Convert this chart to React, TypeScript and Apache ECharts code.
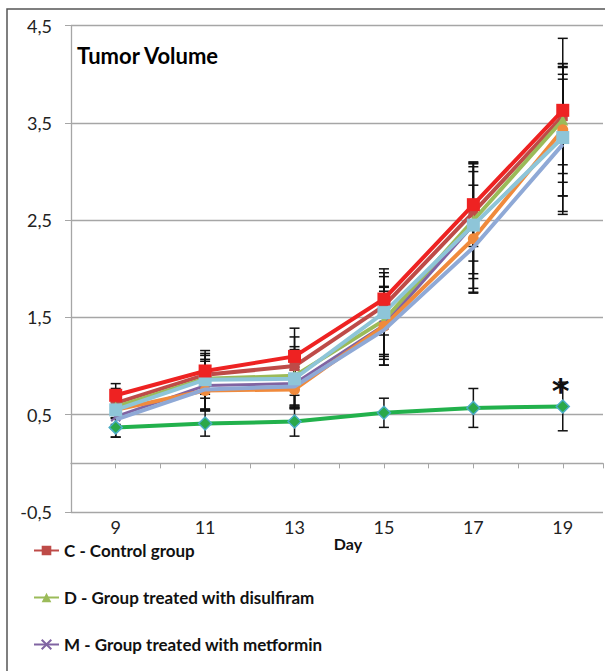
import React, { useEffect, useRef } from "react";
import * as echarts from "echarts";

const days = [9, 11, 13, 15, 17, 19];
const xLabelDays = [9, 11, 13, 15, 17, 19];
const yTicks = [-0.5, 0.5, 1.5, 2.5, 3.5, 4.5];
const xAxisTitle = "Day";

const seriesNames = [
  "C - Control group",
  "D - Group treated with disulfiram",
  "M - Group treated with metformin",
  "Group 4",
  "Group 5",
  "Group 6",
  "Group 7",
  "Group 8",
];
const legendNames = [
  "C - Control group",
  "D - Group treated with disulfiram",
  "M - Group treated with metformin",
];

const controlVals = [0.62, 0.91, 1.0, 1.62, 2.58, 3.57];
const disulfiramVals = [0.58, 0.87, 0.9, 1.47, 2.5, 3.53];
const metforminVals = [0.48, 0.8, 0.82, 1.42, 2.45, 3.35];
const orangeVals = [0.55, 0.75, 0.76, 1.41, 2.31, 3.43];
const blueGrayVals = [0.45, 0.76, 0.79, 1.37, 2.22, 3.28];
const lightBlueVals = [0.55, 0.86, 0.87, 1.55, 2.45, 3.35];
const redVals = [0.7, 0.95, 1.1, 1.69, 2.66, 3.63];
const diamondVals = [0.37, 0.41, 0.43, 0.52, 0.57, 0.585];

const controlErr = [0.15, 0.2, 0.3, 0.3, 0.5, 0.5];
const disulfiramErr = [0.12, 0.2, 0.3, 0.35, 0.55, 0.55];
const metforminErr = [0.1, 0.25, 0.25, 0.35, 0.55, 0.6];
const orangeErr = [0.15, 0.2, 0.2, 0.4, 0.55, 0.68];
const blueGrayErr = [0.18, 0.22, 0.2, 0.36, 0.47, 0.72];
const lightBlueErr = [0.2, 0.3, 0.3, 0.45, 0.65, 0.76];
const redErr = [0.12, 0.18, 0.29, 0.27, 0.43, 0.74];
const diamondErr = [0.1, 0.13, 0.15, 0.15, 0.2, 0.25];

const significantDays = [19];

const FONT = "Lato, 'Open Sans', sans-serif";

export default function App() {
  const ref = useRef<HTMLDivElement>(null);
  useEffect(() => {
    if (!ref.current) return;
    const chart = echarts.init(ref.current, null, { renderer: "svg" });

    const defs = [
      { name: seriesNames[0], vals: controlVals, err: controlErr, color: "#BE4B48", symbol: "rect", size: 10, width: 4 },
      { name: seriesNames[1], vals: disulfiramVals, err: disulfiramErr, color: "#9BBB59", symbol: "triangle", size: 11, width: 4 },
      { name: seriesNames[2], vals: metforminVals, err: metforminErr, color: "#8064A2", symbol: "path://M0,0L10,10M10,0L0,10", size: 9, width: 3 },
      { name: seriesNames[3], vals: orangeVals, err: orangeErr, color: "#F08A3C", symbol: "circle", size: 11, width: 4 },
      { name: seriesNames[4], vals: blueGrayVals, err: blueGrayErr, color: "#8FA9D6", symbol: "none", size: 0, width: 4 },
      { name: seriesNames[5], vals: lightBlueVals, err: lightBlueErr, color: "#8EC5D8", symbol: "rect", size: 13, width: 4 },
      { name: seriesNames[6], vals: redVals, err: redErr, color: "#EE2222", symbol: "rect", size: 13, width: 4 },
      { name: seriesNames[7], vals: diamondVals, err: diamondErr, color: "#22B14C", symbol: "diamond", size: 13, width: 4 },
    ];

    const errData: number[][] = [];
    defs.forEach((d) => {
      d.vals.forEach((v, i) => errData.push([days[i], v, d.err[i]]));
    });

    const errSeries = {
      type: "custom",
      name: "errors",
      silent: true,
      z: 1,
      data: errData,
      renderItem: (params: any, api: any) => {
        const x = api.value(0);
        const y = api.value(1);
        const e = api.value(2);
        const top = api.coord([x, y + e]);
        const bot = api.coord([x, y - e]);
        const hw = 5;
        const style = { stroke: "#111", lineWidth: 1.5 };
        return {
          type: "group",
          children: [
            { type: "line", shape: { x1: top[0], y1: top[1], x2: bot[0], y2: bot[1] }, style },
            { type: "line", shape: { x1: top[0] - hw, y1: top[1], x2: top[0] + hw, y2: top[1] }, style },
            { type: "line", shape: { x1: bot[0] - hw, y1: bot[1], x2: bot[0] + hw, y2: bot[1] }, style },
          ],
        };
      },
    };

    const lineSeries = defs.map((d, si) => ({
      type: "line",
      name: d.name,
      z: 2 + si,
      symbol: d.symbol,
      symbolSize: d.size,
      showSymbol: d.symbol !== "none",
      lineStyle: { color: d.color, width: d.width },
      itemStyle:
        si === 7
          ? { color: "#2BA84A", borderColor: "#4BACC6", borderWidth: 1.5 }
          : si === 2
          ? { color: d.color, borderColor: d.color, borderWidth: 2 }
          : { color: d.color },
      data: d.vals.map((v, i) => {
        const item: any = { value: [days[i], v] };
        if (si === 7 && significantDays.includes(days[i])) {
          item.label = {
            show: true,
            formatter: "*",
            position: "top",
            offset: [-2, 14],
            fontSize: 34,
            fontWeight: "bold",
            color: "#111",
            fontFamily: "'DejaVu Sans', sans-serif",
          };
        }
        return item;
      }),
    }));

    chart.setOption({
      animation: false,
      textStyle: { fontFamily: FONT },
      title: {
        text: "Tumor Volume",
        left: 77,
        top: 44,
        padding: 0,
        textStyle: { fontSize: 22, fontWeight: "bold", color: "#000", fontFamily: FONT },
      },
      legend: {
        data: legendNames,
        orient: "vertical",
        left: 33,
        top: 542,
        itemWidth: 25,
        itemHeight: 12,
        itemGap: 30,
        padding: 0,
        textStyle: { fontSize: 17, fontWeight: "bold", color: "#111", fontFamily: FONT },
      },
      grid: { left: 71, right: 2, top: 25.7, bottom: 159 },
      xAxis: {
        type: "value",
        min: 8,
        max: 19.9,
        interval: 1,
        axisLine: { onZero: true, lineStyle: { color: "#A6A6A6", width: 1.3 } },
        axisTick: { show: true, length: 5, lineStyle: { color: "#A6A6A6" } },
        axisLabel: {
          customValues: xLabelDays,
          margin: 6,
          fontSize: 18,
          color: "#222",
          fontFamily: FONT,
        },
        splitLine: { show: false },
      },
      yAxis: {
        type: "value",
        min: -0.5,
        max: 4.5,
        interval: 1,
        axisLine: { show: true, lineStyle: { color: "#A6A6A6", width: 1.3 } },
        axisTick: { show: true, length: 6, lineStyle: { color: "#A6A6A6" } },
        axisLabel: {
          customValues: yTicks,
          margin: 19,
          fontSize: 18,
          color: "#222",
          fontFamily: FONT,
          formatter: (v: number) => v.toFixed(1).replace(".", ","),
        },
        splitLine: { show: true, lineStyle: { color: "#A6A6A6", width: 1.3 } },
      },
      graphic: [
        {
          type: "polyline",
          shape: { points: [[7, 671], [7, 9], [605, 9]] },
          style: { fill: "none", stroke: "#555", lineWidth: 1.5 },
          silent: true,
        },
        {
          type: "text",
          x: 348,
          y: 543,
          silent: true,
          style: {
            text: xAxisTitle,
            align: "center",
            verticalAlign: "middle",
            fontSize: 16,
            fontWeight: "bold",
            fill: "#111",
            fontFamily: FONT,
          },
        },
      ],
      series: [errSeries, ...lineSeries],
    });
    return () => chart.dispose();
  }, []);
  return (
    <div
      ref={ref}
      style={{ position: "fixed", left: 0, top: 0, width: 605, height: 671, background: "#fff" }}
    />
  );
}
